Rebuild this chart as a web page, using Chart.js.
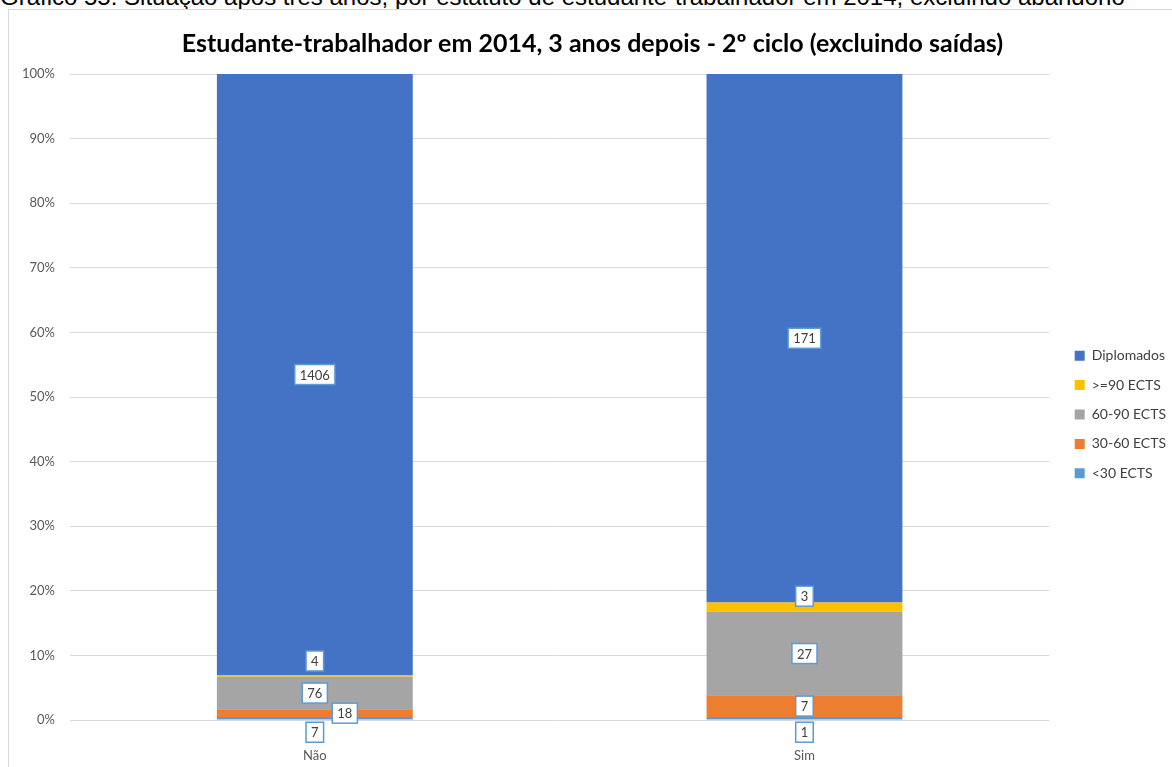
<!DOCTYPE html>
<html>
<head>
<meta charset="utf-8">
<script src="https://cdn.jsdelivr.net/npm/chart.js@4.4.1/dist/chart.umd.min.js"></script>
<style>
    html, body { margin: 0; padding: 0; background: #fff; overflow: hidden; }
    body { width: 1172px; height: 767px; position: relative; }
    #caption {
        position: absolute; left: 0; top: -15px; margin: 0; line-height: 24px;
        font-family: "Liberation Sans", Arial, sans-serif; font-size: 24px; color: #000; white-space: nowrap;
    }
    #frame {
        position: absolute; left: 8px; top: 9px; width: 1170px; height: 770px;
        border: 1px solid #d9d9d9; box-sizing: border-box;
    }
    #box { position: absolute; left: 9px; top: 10px; width: 1163px; height: 757px; }
</style>
</head>
<body>
<p id="caption">Gráfico 55: Situação após três anos, por estatuto de estudante-trabalhador em 2014, excluindo abandono</p>
<div id="frame"></div>
<div id="box"><canvas id="chart1"></canvas></div>

<script>
// counts per group, stacked to 100%

const categories = ['Não', 'Sim'];
const seriesNames = ['<30 ECTS', '30-60 ECTS', '60-90 ECTS', '>=90 ECTS', 'Diplomados'];
const lt30 = [7, 1];
const e30to60 = [18, 7];
const e60to90 = [76, 27];
const ge90 = [4, 3];
const diplomados = [1406, 171];
const yTicks = [0, 10, 20, 30, 40, 50, 60, 70, 80, 90, 100];

const counts = [lt30, e30to60, e60to90, ge90, diplomados];
const colors = ['#5b9bd5', '#ed7d31', '#a5a5a5', '#ffc000', '#4472c4'];

const totals = categories.map((c, i) => counts.reduce((s, arr) => s + arr[i], 0));

const FONT = 'Lato, "DejaVu Sans", sans-serif';

// label nudges (dx, dy) per series / category so small slices stay readable
const nudges = [
    [[0, 14], [0, 14]],
    [[30, 0], [0, 0]],
    [[0, 0], [0, 0]],
    [[0, -15], [0, -11]],
    [[0, 0], [0, 0]]
];

const boxLabels = {
    id: 'boxLabels',
    afterDatasetsDraw(chart) {
        const ctx = chart.ctx;
        ctx.save();
        ctx.font = '13px ' + FONT;
        ctx.textAlign = 'center';
        ctx.textBaseline = 'middle';
        chart.data.datasets.forEach((ds, di) => {
            chart.getDatasetMeta(di).data.forEach((bar, i) => {
                const txt = String(ds.counts[i]);
                const x = bar.x + nudges[di][i][0];
                const y = (bar.y + bar.base) / 2 + nudges[di][i][1];
                const w = ctx.measureText(txt).width + 10;
                const h = 20;
                ctx.fillStyle = '#fff';
                ctx.fillRect(x - w / 2, y - h / 2, w, h);
                ctx.strokeStyle = '#5b9bd5';
                ctx.lineWidth = 1.5;
                ctx.strokeRect(x - w / 2, y - h / 2, w, h);
                ctx.fillStyle = '#404040';
                ctx.fillText(txt, x, y + 1);
            });
        });
        ctx.restore();
    }
};

let chart1 = new Chart(document.getElementById('chart1'), {
    type: 'bar',
    data: {
        labels: categories,
        datasets: counts.map((arr, k) => ({
            label: seriesNames[k],
            counts: arr,
            data: arr.map((v, i) => v / totals[i] * 100),
            backgroundColor: colors[k],
            barPercentage: 0.4,
            categoryPercentage: 1
        }))
    },
    options: {
        responsive: true,
        maintainAspectRatio: false,
        animation: false,
        layout: { padding: { left: 0, right: -4, top: 0, bottom: 0 } },
        plugins: {
            title: {
                display: true,
                text: 'Estudante-trabalhador em 2014, 3 anos depois - 2º ciclo (excluindo saídas)',
                color: '#000',
                font: { family: FONT, size: 25, weight: 'bold' },
                padding: { top: 19, bottom: 15 }
            },
            legend: {
                position: 'right',
                reverse: true,
                // blank title just pushes the entries down a little
                title: { display: true, text: ' ', font: { size: 10 }, padding: { top: 0, bottom: 40 } },
                labels: {
                    boxWidth: 10,
                    boxHeight: 10,
                    padding: 15.4,
                    color: '#404040',
                    font: { family: FONT, size: 14 }
                }
            },
            tooltip: { enabled: false }
        },
        scales: {
            x: {
                stacked: true,
                grid: { display: false, drawTicks: false },
                border: { display: false },
                afterFit: s => { s.height = 47; },
                ticks: {
                    color: '#595959',
                    padding: 28,
                    font: { family: FONT, size: 13 }
                }
            },
            y: {
                stacked: true,
                min: 0,
                max: 100,
                afterBuildTicks: axis => { axis.ticks = yTicks.map(v => ({ value: v })); },
                afterFit: s => { s.width = 61; },
                grid: { color: '#d9d9d9', drawTicks: false },
                border: { display: false },
                ticks: {
                    color: '#595959',
                    padding: 15,
                    font: { family: FONT, size: 13 },
                    callback: v => v + '%'
                }
            },
            // empty axis on the right, only a gap before the legend
            gap: {
                position: 'right',
                axis: 'y',
                grid: { display: false, drawTicks: false },
                border: { display: false },
                ticks: { display: false },
                afterFit: s => { s.width = 10; }
            }
        }
    },
    plugins: [boxLabels]
});
</script>
</body>
</html>
